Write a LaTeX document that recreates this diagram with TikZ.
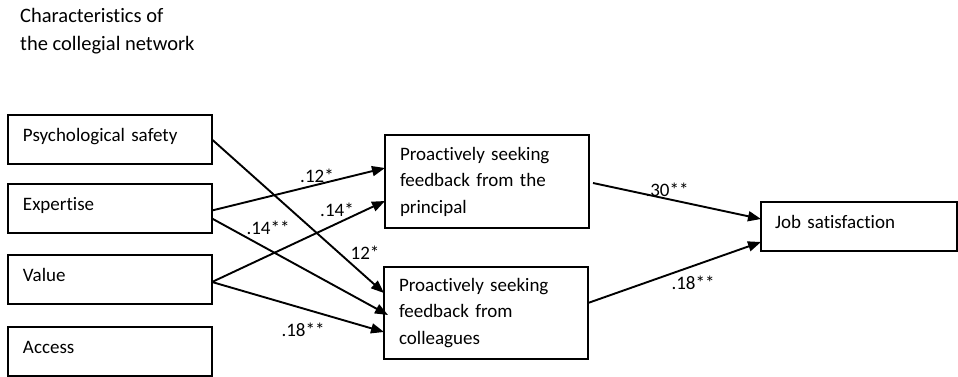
\documentclass[tikz,border=0pt]{standalone}
\usepackage{fontspec}
\setmainfont{Carlito}[Ligatures=NoCommon]
\usetikzlibrary{arrows.meta}
\usetikzlibrary{positioning}

\begin{document}
\begin{tikzpicture}[x=1pt, y=-1pt,
  font=\fontsize{19}{26.5}\selectfont,
  varbox/.style={draw, line width=1.4pt, rectangle, anchor=north west,
    outer sep=0pt, inner xsep=15pt, text width=174pt, align=left,
    minimum height=49pt, text height=14pt, text depth=10pt},
  medbox/.style={draw, line width=1.4pt, rectangle, anchor=north west,
    outer sep=0pt, inner xsep=15pt, text width=174pt, align=left},
  path/.style={line width=1.9pt, -{Triangle[length=13pt,width=10pt]}},
  coef/.style={inner sep=0pt}
]
\useasboundingbox (0,0) rectangle (958,377);

\node[anchor=north west, align=left, inner sep=0pt,
  font=\fontsize{20.5}{28}\selectfont] (title) at (20,8)
  {Characteristics of\\the collegial network};

\node[varbox] (psych) at (8,115) {Psychological safety};
\node[varbox] (expert) at (8,184) {Expertise};
\node[varbox] (value) at (8,255) {Value};
\node[varbox] (access) at (8,327) {Access};

\node[medbox, minimum height=93pt] (princ) at (385,135)
  {Proactively seeking\\feedback from the\\principal};
\node[medbox, minimum height=92pt] (coll) at (384,267)
  {Proactively seeking\\feedback from\\colleagues};

\node[varbox, inner xsep=14pt, text width=168pt] (job) at (761,202) {Job satisfaction};

\draw[path] (psych.east) -- ([yshift=20pt]coll.west);
\draw[path] ([yshift=-2pt]expert.east) -- ([yshift=13.5pt]princ.west);
\draw[path] ([yshift=-10pt]expert.east) -- ([xshift=4pt,yshift=-2pt]coll.west);
\draw[path] ([yshift=-2.5pt]value.east) -- ([yshift=-19.5pt]princ.west);
\draw[path] ([yshift=-2.5pt]value.east) -- ([yshift=-19pt]coll.west);
\draw[path] ([xshift=4pt,yshift=-1.5pt]princ.east) -- ([yshift=7.5pt]job.west);
\draw[path] ([yshift=10pt]coll.east) -- ([yshift=-15.5pt]job.west);

\node[coef] (c1) at (317,176) {.12*};
\node[coef] (c2) at (268,228) {.14**};
\node[coef] (c3) at (337,210) {.14*};
\node[coef] (c4) at (365,253) {12*};
\node[coef] (c5) at (303,330) {.18**};
\node[coef] (c6) at (667,190) {.30**};
\node[coef] (c7) at (693,283) {.18**};
\end{tikzpicture}
\end{document}
